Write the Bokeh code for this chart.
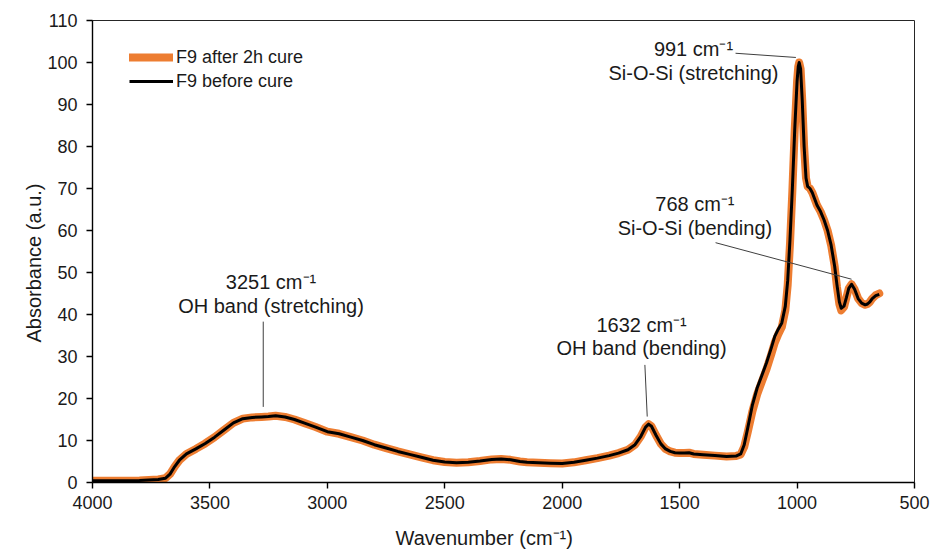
from bokeh.plotting import figure
from bokeh.models import Range1d, FixedTicker, Legend, LegendItem, Title
from bokeh.core.properties import value
from bokeh.embed import file_html
from bokeh.resources import INLINE

# FTIR spectra of F9 (wavenumber in cm-1, absorbance in a.u.)
wavenumber = [4000, 3900, 3800, 3720, 3690, 3670, 3650, 3630, 3600, 3560, 3520, 3480,
              3440, 3400, 3360, 3320, 3280, 3251, 3220, 3180, 3140, 3100, 3050, 3000,
              2950, 2900, 2850, 2800, 2750, 2700, 2650, 2600, 2550, 2500, 2450, 2400,
              2350, 2300, 2260, 2220, 2180, 2150, 2100, 2050, 2000, 1950, 1900, 1850,
              1800, 1760, 1720, 1690, 1665, 1645, 1632, 1620, 1600, 1580, 1560, 1540,
              1520, 1500, 1480, 1460, 1440, 1400, 1350, 1300, 1260, 1240, 1225, 1210,
              1190, 1170, 1150, 1130, 1110, 1095, 1080, 1065, 1050, 1040, 1030, 1020,
              1010, 1000, 995, 991, 985, 978, 970, 962, 955, 945, 935, 925, 915, 900,
              885, 870, 855, 840, 830, 820, 812, 800, 790, 780, 768, 755, 740, 725,
              710, 700, 690, 680, 665, 650]

before_cure = [0.4, 0.4, 0.5, 0.7, 1.0, 2.0, 3.8, 5.3, 6.8, 8.0, 9.3, 10.8,
               12.5, 14.2, 15.2, 15.5, 15.6, 15.7, 15.9, 15.6, 15.0, 14.2, 13.2, 12.1,
               11.6, 10.8, 10.0, 9.0, 8.2, 7.4, 6.7, 6.0, 5.3, 4.9, 4.7, 4.8,
               5.1, 5.5, 5.6, 5.4, 5.0, 4.8, 4.7, 4.6, 4.5, 4.8, 5.3, 5.8,
               6.4, 7.0, 7.8, 9.0, 11.0, 13.2, 13.9, 13.4, 11.2, 9.2, 8.0, 7.4,
               7.1, 7.0, 7.0, 7.1, 6.8, 6.6, 6.4, 6.2, 6.3, 6.8, 9.0, 13.0,
               18.5, 22.5, 25.5, 28.5, 32.0, 34.8, 36.5, 38.0, 42.0, 48.0, 58.0, 70.0,
               84.0, 95.5, 99.0, 100.0, 98.5, 91.0, 80.0, 72.5, 70.5, 70.0, 69.0, 67.5,
               66.0, 64.5, 62.5, 60.0, 56.5, 51.5, 47.0, 43.0, 41.5, 42.0, 44.0, 46.2,
               47.2, 46.0, 43.8, 42.7, 42.3, 42.5, 43.0, 43.8, 44.5, 44.8]

after_cure = [0.4, 0.4, 0.5, 0.7, 1.0, 2.0, 3.8, 5.3, 6.8, 8.0, 9.3, 10.8,
              12.5, 14.2, 15.2, 15.5, 15.6, 15.7, 15.9, 15.6, 15.0, 14.2, 13.2, 12.1,
              11.6, 10.8, 10.0, 9.0, 8.2, 7.4, 6.7, 6.0, 5.3, 4.9, 4.7, 4.8,
              5.1, 5.5, 5.6, 5.4, 5.0, 4.8, 4.7, 4.6, 4.5, 4.8, 5.3, 5.8,
              6.4, 7.0, 7.8, 9.0, 11.0, 13.2, 13.9, 13.4, 11.2, 9.2, 8.0, 7.4,
              7.1, 7.0, 7.0, 7.1, 6.8, 6.6, 6.4, 6.2, 6.3, 6.7, 8.5, 12.0,
              17.0, 21.0, 24.0, 27.0, 30.5, 33.3, 35.3, 37.0, 41.0, 47.0, 57.0, 69.5,
              84.0, 95.5, 99.0, 100.0, 98.5, 91.0, 80.0, 72.5, 70.5, 70.0, 69.0, 67.5,
              66.0, 64.5, 62.5, 60.0, 56.5, 51.5, 46.5, 42.5, 41.0, 41.8, 44.0, 46.2,
              47.2, 46.0, 43.8, 42.7, 42.3, 42.5, 43.0, 43.8, 44.6, 45.0]

x_ticks = [4000, 3500, 3000, 2500, 2000, 1500, 1000, 500]
y_ticks = [0, 10, 20, 30, 40, 50, 60, 70, 80, 90, 100, 110]

x_title = "Wavenumber (cm\u207b\u00b9)"
y_title = "Absorbance (a.u.)"

# Peak annotations: two text lines plus a leader line each
ann_x = [3240, 1662, 1441, 1435]
ann_y_top = [47.7, 37.5, 103.2, 66.3]
ann_y_bottom = [42.0, 32.0, 97.5, 60.6]
ann_top = ["3251 cm\u207b\u00b9", "1632 cm\u207b\u00b9", "991 cm\u207b\u00b9", "768 cm\u207b\u00b9"]
ann_bottom = ["OH band (stretching)", "OH band (bending)",
              "Si-O-Si (stretching)", "Si-O-Si (bending)"]
lead_x0 = [3273, 1648, 1262, 1347]
lead_y0 = [38.3, 28.0, 102.2, 57.1]
lead_x1 = [3273, 1638, 1005, 768]
lead_y1 = [18.0, 15.7, 101.2, 48.4]

FONT = "Liberation Sans"
TXT = "#1a1a1a"
ORANGE = "#ED7D31"

p = figure(width=933, height=556, output_backend="svg", toolbar_location=None,
           x_range=Range1d(4000, 500), y_range=Range1d(0, 110),
           min_border_left=92, min_border_right=19, min_border_top=20,
           min_border_bottom=74)
p.frame_width = 822
p.frame_height = 462
p.xgrid.visible = False
p.ygrid.visible = False
p.outline_line_color = "#262626"
p.outline_line_width = 1
p.background_fill_color = "white"
p.border_fill_color = "white"

for ax in (p.xaxis[0], p.yaxis[0]):
    ax.axis_line_color = "#000000"
    ax.axis_line_width = 1.4
    ax.major_tick_line_color = "#000000"
    ax.major_tick_line_width = 1.4
    ax.major_tick_in = 0
    ax.major_tick_out = 6
    ax.minor_tick_line_color = None
    ax.major_label_text_font = FONT
    ax.major_label_text_font_size = "18px"
    ax.major_label_text_color = TXT

p.xaxis.ticker = FixedTicker(ticks=x_ticks)
p.yaxis.ticker = FixedTicker(ticks=y_ticks)
p.xaxis.major_label_standoff = 7
p.yaxis.major_label_standoff = 9

# Axis titles as side-panel titles so their position along the axis can be set
p.add_layout(Title(text=x_title, align="left", offset=303, standoff=26,
                   text_font=FONT, text_font_size="20px", text_color=TXT,
                   text_font_style="normal"), "below")
p.add_layout(Title(text=y_title, align="left", offset=140, standoff=0,
                   text_font=FONT, text_font_size="20px", text_color=TXT,
                   text_font_style="normal"), "left")

r_after = p.line(wavenumber, after_cure, line_color=ORANGE, line_width=8,
                 line_cap="round", line_join="round")
r_before = p.line(wavenumber, before_cure, line_color="#000000", line_width=3,
                  line_join="round")

p.segment(x0=lead_x0, y0=lead_y0, x1=lead_x1, y1=lead_y1,
          line_color="#3f3f3f", line_width=1)

p.text(x=ann_x, y=ann_y_top, text=ann_top, text_font=value(FONT),
       text_font_size="20px", text_color=TXT, text_align="center",
       text_baseline="middle")
p.text(x=ann_x, y=ann_y_bottom, text=ann_bottom, text_font=value(FONT),
       text_font_size="20px", text_color=TXT, text_align="center",
       text_baseline="middle")

legend = Legend(items=[LegendItem(label="F9 after 2h cure", renderers=[r_after]),
                       LegendItem(label="F9 before cure", renderers=[r_before])],
                location=(37, 389))
legend.padding = 0
legend.margin = 0
legend.spacing = 0
legend.glyph_width = 44
legend.glyph_height = 24
legend.label_height = 24
legend.label_standoff = 3
legend.label_text_font = FONT
legend.label_text_font_size = "18px"
legend.label_text_color = TXT
legend.border_line_color = None
legend.background_fill_alpha = 0
p.add_layout(legend)

open("out.html", "w").write(file_html(p, INLINE))
